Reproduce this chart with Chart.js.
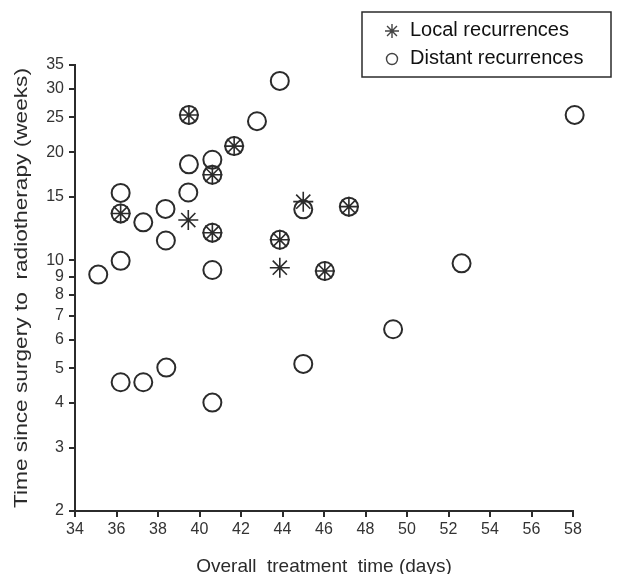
<!DOCTYPE html>
<html><head><meta charset="utf-8">
<script src="https://cdn.jsdelivr.net/npm/chart.js@4.4.1/dist/chart.umd.min.js"></script>
<style>html,body{margin:0;padding:0;background:#fff}canvas{display:block}</style>
</head><body>
<canvas id="c" width="630" height="574"></canvas>
<script>
// ---- data ----
const xTickValues = [34, 36, 38, 40, 42, 44, 46, 48, 50, 52, 54, 56, 58];
const yTickValues = [2, 3, 4, 5, 6, 7, 8, 9, 10, 15, 20, 25, 30, 35];
const seriesLabels = ['Local recurrences', 'Distant recurrences'];
const xTitle = 'Overall  treatment  time (days)';
const yTitle = 'Time since surgery to  radiotherapy (weeks)';

const distantX = [35.12, 36.2, 36.2, 36.2, 36.2, 37.29, 37.29, 38.36, 38.38, 38.4, 39.46, 39.49, 39.49, 40.62, 40.62, 40.62, 40.62, 40.62, 41.67, 42.77, 43.87, 43.87, 45.0, 45.0, 46.04, 47.2, 49.33, 52.63, 58.08];
const distantY = [9.12, 15.4, 13.5, 9.96, 4.57, 12.75, 4.57, 13.9, 11.35, 5.02, 15.44, 18.5, 25.4, 19.06, 17.3, 11.93, 9.39, 4.01, 20.8, 24.4, 31.6, 11.4, 13.86, 5.14, 9.33, 14.1, 6.42, 9.8, 25.4];

const localX = [36.2, 39.49, 39.46, 40.62, 40.62, 41.67, 43.87, 43.87, 45.0, 46.04, 47.2];
const localY = [13.5, 25.4, 12.94, 17.3, 11.93, 20.8, 11.4, 9.53, 14.56, 9.33, 14.1];

const toPts = (xs, ys) => xs.map((x, i) => ({x: x, y: ys[i]}));

const INK = '#2b2b2b';
const FONT = '"Liberation Sans", Arial, sans-serif';

const decor = {
  id: 'decor',
  afterDraw(chart) {
    const ctx = chart.ctx;
    ctx.save();
    ctx.fillStyle = INK;
    // x title
    ctx.font = '19px ' + FONT;
    ctx.textAlign = 'center';
    ctx.textBaseline = 'middle';
    ctx.fillText(xTitle, 324, 567);
    // y title (stretched along its length like the reference)
    ctx.save();
    ctx.translate(22, 288);
    ctx.rotate(-Math.PI / 2);
    ctx.font = '18px ' + FONT;
    const w = ctx.measureText(yTitle).width;
    ctx.scale(440 / w, 1);
    ctx.fillText(yTitle, 0, 0);
    ctx.restore();
    // legend box
    ctx.strokeStyle = INK;
    ctx.lineWidth = 1.5;
    ctx.strokeRect(362, 12, 249, 65);
    const ds = chart.data.datasets;
    const rows = [[ds[0], 30], [ds[1], 58]];
    rows.forEach(([d, y]) => {
      ctx.save();
      ctx.strokeStyle = '#444';
      ctx.fillStyle = 'rgba(0,0,0,0)';
      ctx.lineWidth = 1.4;
      Chart.helpers.drawPoint(ctx, {
        pointStyle: d.pointStyle, radius: d.pointStyle === 'star' ? 7 : 5.5,
        rotation: 0, borderWidth: 1.4
      }, 392, y + 1);
      ctx.restore();
      ctx.fillStyle = '#111';
      ctx.font = '20px ' + FONT;
      ctx.textAlign = 'left';
      ctx.textBaseline = 'middle';
      ctx.fillText(d.label, 410, y);
    });
    ctx.restore();
  }
};

new Chart(document.getElementById('c'), {
  type: 'scatter',
  data: {
    datasets: [
      {
        label: seriesLabels[0],
        data: toPts(localX, localY),
        pointStyle: 'star',
        pointRadius: 10,
        borderColor: INK,
        backgroundColor: INK,
        pointBorderWidth: 1.6,
        order: 0,
        clip: false
      },
      {
        label: seriesLabels[1],
        data: toPts(distantX, distantY),
        pointStyle: 'circle',
        pointRadius: 9,
        borderColor: INK,
        backgroundColor: 'rgba(0,0,0,0)',
        pointBorderWidth: 2,
        order: 1,
        clip: false
      }
    ]
  },
  options: {
    responsive: false,
    animation: false,
    devicePixelRatio: 1,
    layout: {padding: {top: 65, right: 57, left: 0, bottom: 0}},
    plugins: {legend: {display: false}, tooltip: {enabled: false}},
    scales: {
      x: {
        type: 'linear',
        min: 34, max: 58,
        afterFit(s) { s.height = 63; },
        afterBuildTicks(s) { s.ticks = xTickValues.map(v => ({value: v})); },
        border: {display: true, color: INK, width: 2},
        grid: {drawOnChartArea: false, drawTicks: true, tickLength: 6, color: INK, lineWidth: 2},
        ticks: {color: '#333', font: {family: FONT, size: 16}, padding: 3, maxRotation: 0, autoSkip: false}
      },
      y: {
        type: 'logarithmic',
        min: 2, max: 35,
        afterFit(s) { s.width = 75; },
        afterBuildTicks(s) { s.ticks = yTickValues.map(v => ({value: v})); },
        border: {display: true, color: INK, width: 2},
        grid: {drawOnChartArea: false, drawTicks: true, tickLength: 6, color: INK, lineWidth: 2},
        ticks: {color: '#333', font: {family: FONT, size: 16}, padding: 5, autoSkip: false,
          callback: v => String(v)}
      }
    }
  },
  plugins: [decor]
});
</script>
</body></html>
